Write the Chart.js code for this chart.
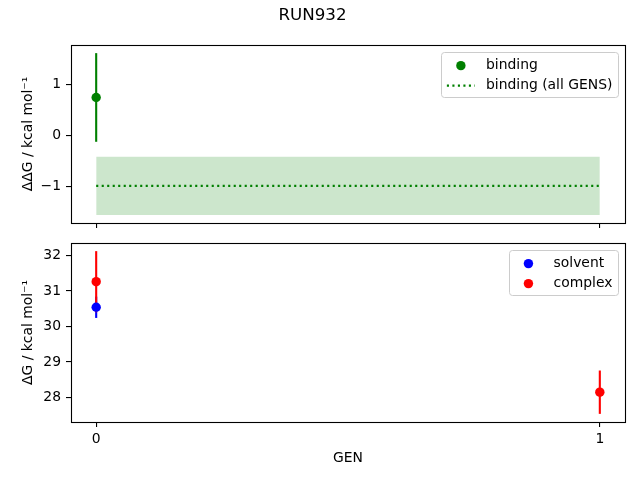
<!DOCTYPE html>
<html>
<head>
<meta charset="utf-8">
<script src="https://cdn.jsdelivr.net/npm/chart.js@4.4.1/dist/chart.umd.min.js"></script>
<style>
  html, body { margin: 0; padding: 0; background: #fff; }
  #wrap { position: relative; width: 640px; height: 480px; }
  .pane { position: absolute; left: 0; width: 640px; }
</style>
</head>
<body>
<div id="wrap">
  <div class="pane" style="top:0;height:233px"><canvas id="topChart"></canvas></div>
  <div class="pane" style="top:233px;height:247px"><canvas id="bottomChart"></canvas></div>
</div>
<script>
// Chart data
const runTitle = 'RUN932';
const xTicks = [0, 1];
const allGens = [0, 1];

const bindingGen = [0];
const bindingValue = [0.74];
const bindingError = [0.87];
const bindingAllValue = -0.995;
const bindingAllError = 0.57;

const solventGen = [0];
const solventValue = [30.54];
const solventError = [0.30];

const complexGen = [0, 1];
const complexValue = [31.26, 28.15];
const complexError = [0.86, 0.61];

const topTicks = [-1, 0, 1];
const bottomTicks = [28, 29, 30, 31, 32];

// Colours (matplotlib named colours)
const colors = {
  green: '#008000',
  greenFill: 'rgba(0,128,0,0.2)',
  blue: '#0000ff',
  red: '#ff0000'
};

const FONT = '"DejaVu Sans", sans-serif';
const FS = 13.9;
const MARKER = 4.7;

Chart.defaults.font.family = FONT;
Chart.defaults.font.size = FS;
Chart.defaults.color = '#000';

// helpers
function points(xs, ys) {
  return xs.map((x, i) => ({ x: x, y: ys[i] }));
}
function errorBars(xs, ys, errs, color, order) {
  return xs.map((x, i) => ({
    data: [{ x: x, y: ys[i] - errs[i] }, { x: x, y: ys[i] + errs[i] }],
    borderColor: color,
    borderWidth: 2.1,
    pointRadius: 0,
    pointHoverRadius: 0,
    fill: false,
    order: order
  }));
}
function limits(lo, hi) {
  // matplotlib default 5% margins
  const m = (hi - lo) * 0.05;
  return { min: lo - m, max: hi + m };
}
function minusSign(v) {
  return String(v).replace('-', '\u2212');
}

// draw the axes frame like matplotlib spines
const framePlugin = {
  id: 'frame',
  afterDatasetsDraw(chart) {
    const a = chart.chartArea;
    const ctx = chart.ctx;
    ctx.save();
    ctx.strokeStyle = '#000';
    ctx.lineWidth = 1.1;
    ctx.strokeRect(Math.round(a.left) + 0.5, Math.round(a.top) + 0.5,
      Math.round(a.right - a.left), Math.round(a.bottom - a.top));
    ctx.restore();
  }
};

// legend box inside the axes, upper right
const insideLegend = {
  id: 'insideLegend',
  afterDraw(chart) {
    const items = chart.data.datasets.filter(d => d.legendKind)
      .sort((p, q) => p.legendRank - q.legendRank);
    if (!items.length) return;
    const ctx = chart.ctx;
    const a = chart.chartArea;
    const pad = 5.6, handle = 28, gap = 11.1, rowH = 14, spacing = 6, edge = 7;
    ctx.save();
    ctx.font = FS + 'px ' + FONT;
    const tw = Math.max(...items.map(d => ctx.measureText(d.label).width));
    const w = pad * 2 + handle + gap + tw;
    const h = pad * 2 + items.length * rowH + (items.length - 1) * spacing;
    const x0 = a.right - edge - w;
    const y0 = a.top + edge;

    ctx.beginPath();
    ctx.roundRect(Math.round(x0) + 0.5, Math.round(y0) + 0.5, Math.round(w), Math.round(h), 3);
    ctx.fillStyle = 'rgba(255,255,255,0.8)';
    ctx.fill();
    ctx.strokeStyle = '#cccccc';
    ctx.lineWidth = 1;
    ctx.stroke();

    items.forEach((d, i) => {
      const cy = y0 + pad + rowH / 2 + i * (rowH + spacing) + 1;
      const hx = x0 + pad;
      if (d.legendKind === 'marker') {
        ctx.beginPath();
        ctx.arc(hx + handle / 2, cy, MARKER, 0, Math.PI * 2);
        ctx.fillStyle = d.backgroundColor;
        ctx.fill();
      } else {
        ctx.beginPath();
        ctx.setLineDash(d.borderDash || []);
        ctx.moveTo(hx, cy);
        ctx.lineTo(hx + handle, cy);
        ctx.strokeStyle = d.borderColor;
        ctx.lineWidth = d.borderWidth;
        ctx.stroke();
        ctx.setLineDash([]);
      }
      ctx.fillStyle = '#000';
      ctx.textAlign = 'left';
      ctx.textBaseline = 'middle';
      ctx.fillText(d.label, hx + handle + gap, cy);
    });
    ctx.restore();
  }
};

function yScale(ticks, lim, title) {
  return {
    type: 'linear',
    min: lim.min,
    max: lim.max,
    afterBuildTicks: s => { s.ticks = ticks.map(v => ({ value: v })); },
    afterFit: s => { s.width = 71; s.paddingTop = 0; s.paddingBottom = 0; },
    grid: { drawOnChartArea: false, drawTicks: true, tickLength: 5, color: '#000', lineWidth: 1.1 },
    border: { display: false },
    ticks: { padding: 5, callback: v => minusSign(v) },
    title: { display: true, text: title, padding: { top: 20, bottom: 0 }, font: { size: FS } }
  };
}

function xScale(showLabels, height) {
  return {
    type: 'linear',
    min: -0.05,
    max: 1.05,
    afterBuildTicks: s => { s.ticks = xTicks.map(v => ({ value: v })); },
    afterFit: s => { s.height = height; s.paddingLeft = 0; s.paddingRight = 0; },
    grid: { drawOnChartArea: false, drawTicks: true, tickLength: 5, color: '#000', lineWidth: 1.1 },
    border: { display: false },
    ticks: { display: showLabels, padding: 4, maxRotation: 0 },
    title: { display: showLabels, text: 'GEN', padding: { top: 0, bottom: 13 }, font: { size: FS } }
  };
}

// top panel: binding free energy
const bLo = Math.min(bindingAllValue - bindingAllError, ...bindingValue.map((v, i) => v - bindingError[i]));
const bHi = Math.max(bindingAllValue + bindingAllError, ...bindingValue.map((v, i) => v + bindingError[i]));

new Chart(document.getElementById('topChart'), {
  type: 'line',
  data: {
    datasets: [
      {
        data: allGens.map(g => ({ x: g, y: bindingAllValue - bindingAllError })),
        borderWidth: 0, pointRadius: 0, fill: false, order: 10
      },
      {
        data: allGens.map(g => ({ x: g, y: bindingAllValue + bindingAllError })),
        borderWidth: 0, pointRadius: 0, fill: '-1',
        backgroundColor: colors.greenFill, order: 9
      },
      {
        label: 'binding (all GENS)',
        legendKind: 'line',
        legendRank: 2,
        data: allGens.map(g => ({ x: g, y: bindingAllValue })),
        borderColor: colors.green,
        borderWidth: 2.1,
        borderDash: [2.1, 3.4],
        pointRadius: 0, fill: false, order: 8
      },
      ...errorBars(bindingGen, bindingValue, bindingError, colors.green, 5),
      {
        label: 'binding',
        legendKind: 'marker',
        legendRank: 1,
        data: points(bindingGen, bindingValue),
        showLine: false,
        pointRadius: MARKER,
        pointBorderWidth: 0,
        backgroundColor: colors.green,
        borderColor: colors.green,
        order: 1
      }
    ]
  },
  options: {
    responsive: true,
    maintainAspectRatio: false,
    animation: false,
    layout: { padding: { left: 0, right: 15, top: 0, bottom: 0 } },
    plugins: {
      legend: { display: false },
      tooltip: { enabled: false },
      title: {
        display: true,
        text: runTitle,
        color: '#000',
        font: { size: 16.7, weight: 'normal' },
        padding: { top: 6, bottom: 19 }
      }
    },
    scales: {
      x: xScale(false, 10),
      y: yScale(topTicks, limits(bLo, bHi), '\u0394\u0394G / kcal mol\u207B\u00B9')
    }
  },
  plugins: [framePlugin, insideLegend]
});

// bottom panel: solvent and complex free energies
const allLo = solventValue.map((v, i) => v - solventError[i]).concat(complexValue.map((v, i) => v - complexError[i]));
const allHi = solventValue.map((v, i) => v + solventError[i]).concat(complexValue.map((v, i) => v + complexError[i]));

new Chart(document.getElementById('bottomChart'), {
  type: 'line',
  data: {
    datasets: [
      ...errorBars(solventGen, solventValue, solventError, colors.blue, 6),
      ...errorBars(complexGen, complexValue, complexError, colors.red, 5),
      {
        label: 'solvent',
        legendKind: 'marker',
        legendRank: 1,
        data: points(solventGen, solventValue),
        showLine: false,
        pointRadius: MARKER,
        pointBorderWidth: 0,
        backgroundColor: colors.blue,
        borderColor: colors.blue,
        order: 2
      },
      {
        label: 'complex',
        legendKind: 'marker',
        legendRank: 2,
        data: points(complexGen, complexValue),
        showLine: false,
        pointRadius: MARKER,
        pointBorderWidth: 0,
        backgroundColor: colors.red,
        borderColor: colors.red,
        order: 1
      }
    ]
  },
  options: {
    responsive: true,
    maintainAspectRatio: false,
    animation: false,
    layout: { padding: { left: 0, right: 15, top: 10, bottom: 0 } },
    plugins: {
      legend: { display: false },
      tooltip: { enabled: false }
    },
    scales: {
      x: xScale(true, 58),
      y: yScale(bottomTicks, limits(Math.min(...allLo), Math.max(...allHi)), '\u0394G / kcal mol\u207B\u00B9')
    }
  },
  plugins: [framePlugin, insideLegend]
});
</script>
</body>
</html>
